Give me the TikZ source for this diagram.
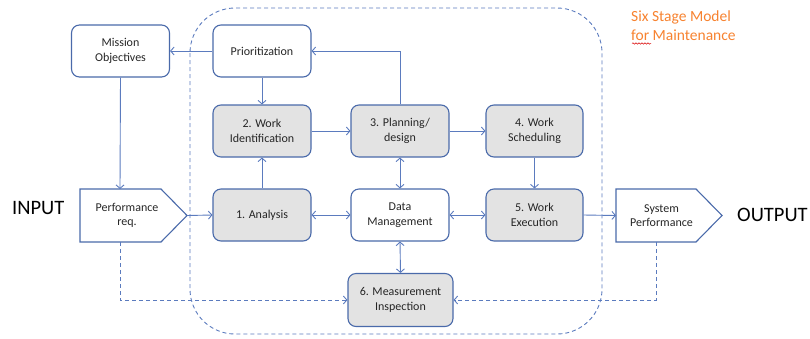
\documentclass[tikz,border=0pt]{standalone}
\usepackage{fontspec}
\setmainfont{Carlito}
\usetikzlibrary{arrows.meta,decorations.pathmorphing}
\definecolor{boxblue}{HTML}{4A6AAA}
\definecolor{linkblue}{HTML}{5B7BBE}
\definecolor{boxgray}{HTML}{E3E3E3}
\definecolor{titleorange}{HTML}{F7822F}
\definecolor{txt}{HTML}{262626}
\tikzset{
  stage/.style={draw=boxblue, line width=1.1pt, rounded corners=8pt, minimum width=98pt, minimum height=52pt, align=center, font=\fontsize{12}{14.6}\selectfont, text=txt, inner sep=2pt},
  grayst/.style={stage, fill=boxgray},
  whitest/.style={stage, fill=white},
  shapeline/.style={draw=boxblue, line width=1.1pt, fill=white},
  lbl/.style={align=center, font=\fontsize{12}{14.6}\selectfont, text=txt, inner sep=0pt},
  link/.style={draw=linkblue, line width=0.9pt, -{Straight Barb[length=3.5pt,width=8pt]}},
  dlink/.style={draw=linkblue, line width=0.9pt, {Straight Barb[length=3.5pt,width=8pt]}-{Straight Barb[length=3.5pt,width=8pt]}},
  dashlink/.style={link, dash pattern=on 4pt off 3pt},
  big/.style={font=\fontsize{20.5}{24}\selectfont, text=black, inner sep=0pt}
}
\begin{document}
\begin{tikzpicture}[x=1pt,y=-1pt]
\useasboundingbox (0,0) rectangle (810,338);
% outer dashed boundary
\draw[draw=linkblue, line width=0.9pt, dash pattern=on 4pt off 3pt, rounded corners=45pt] (190,8) rectangle (602,334);
% title
\node[anchor=west, align=left, text=titleorange, font=\fontsize{15.5}{19}\selectfont, inner sep=0pt] (title) at (631,26) {Six Stage Model\\for Maintenance};
\draw[red!85!black, line width=0.5pt, decorate, decoration={snake, amplitude=0.7pt, segment length=3pt}] (632,43.5) -- (651,43.5);
% boxes
\node[whitest] (mission) at (120.5,51) {Mission\\Objectives};
\node[whitest] (prior) at (262,51) {Prioritization};
\node[grayst] (workid) at (262,131) {2. Work\\Identification};
\node[grayst] (plan) at (400,131) {3. Planning/\\design};
\node[grayst, minimum width=97pt] (sched) at (534.5,131) {4. Work\\Scheduling};
\node[grayst] (analysis) at (262,215) {1. Analysis};
\node[whitest] (data) at (400,215) {Data\\Management};
\node[grayst, minimum width=97pt] (exec) at (534.5,215) {5. Work\\Execution};
\node[grayst, minimum width=105pt, minimum height=53pt] (meas) at (400.5,300) {6. Measurement\\Inspection};
% pentagon shapes
\draw[shapeline] (80,189) -- (161,189) -- (187,215.5) -- (161,242) -- (80,242) -- cycle;
\node[lbl] (perf) at (127,215.5) {Performance\\req.};
\coordinate (perftop) at (120,189);
\coordinate (perftip) at (187,215.5);
\coordinate (perfbot) at (120,242);
\draw[shapeline] (616,189) -- (696,189) -- (722,215.5) -- (696,242) -- (616,242) -- cycle;
\node[lbl] (sysperf) at (661.5,215.5) {System\\Performance};
\coordinate (syswest) at (616,215.5);
\coordinate (sysbot) at (656,242);
% INPUT / OUTPUT
\node[big, anchor=west] (input) at (12,208) {INPUT};
\node[big, anchor=west] (output) at (737,215) {OUTPUT};
% connectors
\draw[link] (prior.west) -- (mission.east);
\draw[link] (plan.north) |- (prior.east);
\draw[link] (prior.south) -- (workid.north);
\draw[link] (workid.east) -- (plan.west);
\draw[link] (plan.east) -- (sched.west);
\draw[link] (analysis.north) -- (workid.south);
\draw[dlink] (data.north) -- (plan.south);
\draw[dlink] (analysis.east) -- (data.west);
\draw[dlink] (data.east) -- (exec.west);
\draw[link] (sched.south) -- (exec.north);
\draw[link] (exec.east) -- (syswest);
\draw[link] (mission.south) -- (perftop);
\draw[link] (perftip) -- (analysis.west);
\draw[dlink] (data.south) -- (meas.north);
\draw[dashlink] (perfbot) |- (meas.west);
\draw[dashlink] (sysbot) |- (meas.east);
\end{tikzpicture}
\end{document}
